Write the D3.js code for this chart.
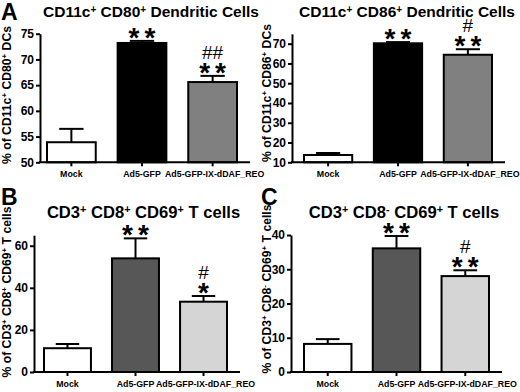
<!DOCTYPE html>
<html>
<head>
<meta charset="utf-8">
<script src="https://cdn.jsdelivr.net/npm/d3@7"></script>
<style>
  body { margin: 0; background: #fff; }
  svg { display: block; font-family: "Liberation Sans", Arial, sans-serif; font-weight: bold; }
</style>
</head>
<body>
<svg id="chart" width="520" height="392"></svg>
<script>
// Groups shared by all four panels
const groups = ['Mock', 'Ad5-GFP', 'Ad5-GFP-IX-dDAF_REO'];

// A left: CD11c+ CD80+ dendritic cells
const cd80Mean = [53.9, 73.2, 65.6];
const cd80Sem = [2.6, 0.4, 1.2];
const cd80Ticks = [50, 55, 60, 65, 70, 75];
const cd80Stars = ['', '**', '**'];
const cd80Hash = ['', '', '##'];

// A right: CD11c+ CD86+ dendritic cells
const cd86Mean = [13.7, 70.2, 64.4];
const cd86Sem = [1.0, 0.6, 2.8];
const cd86Ticks = [10, 20, 30, 40, 50, 60, 70];
const cd86Stars = ['', '**', '**'];
const cd86Hash = ['', '', '#'];

// B: CD3+ CD8+ CD69+ T cells
const cd8Mean = [11.3, 54.0, 33.4];
const cd8Sem = [2.0, 9.5, 2.7];
const cd8Ticks = [0, 20, 40, 60];
const cd8Stars = ['', '**', '*'];
const cd8Hash = ['', '', '#'];

// C: CD3+ CD8- CD69+ T cells
const cd4Mean = [8.2, 36.1, 28.0];
const cd4Sem = [1.4, 3.6, 1.7];
const cd4Ticks = [0, 10, 20, 30, 40];
const cd4Stars = ['', '**', '**'];
const cd4Hash = ['', '', '#'];

const svg = d3.select('#chart');

// Panel layout
const panels = [
  {
    letter: 'A', letterX: 1, letterY: 20,
    title: [['CD11c'], ['+', 1], [' CD80'], ['+', 1], [' Dendritic Cells']],
    titleX: 151, titleY: 17, titleSize: 15.5,
    ylabel: [['% of CD11c'], ['+', 1], [' CD80'], ['+', 1], [' DCs']],
    ylabX: 11, ylabY: 95,
    mean: cd80Mean, sem: cd80Sem, ticks: cd80Ticks, stars: cd80Stars, hash: cd80Hash,
    domain: [50, 75], yBot: 162.3, yTop: 33.7,
    axisX: 40, axisEnd: 250, barL: 47, barR: 237,
    fills: ['#ffffff', '#000000', '#808080']
  },
  {
    letter: null,
    title: [['CD11c'], ['+', 1], [' CD86'], ['+', 1], [' Dendritic Cells']],
    titleX: 407, titleY: 17, titleSize: 15.5,
    ylabel: [['% of CD11c'], ['+', 1], [' CD86'], ['+', 1], [' DCs']],
    ylabX: 271, ylabY: 93,
    mean: cd86Mean, sem: cd86Sem, ticks: cd86Ticks, stars: cd86Stars, hash: cd86Hash,
    domain: [10, 75], yBot: 162.3, yTop: 33.8,
    axisX: 292, axisEnd: 505, barL: 304, barR: 492,
    fills: ['#ffffff', '#000000', '#808080']
  },
  {
    letter: 'B', letterX: 1, letterY: 205,
    title: [['CD3'], ['+', 1], [' CD8'], ['+', 1], [' CD69'], ['+', 1], [' T cells']],
    titleX: 143.5, titleY: 218, titleSize: 16.6,
    ylabel: [['% of CD3'], ['+', 1], [' CD8'], ['+', 1], [' CD69'], ['+', 1], [' T cells']],
    ylabX: 11, ylabY: 292,
    mean: cd8Mean, sem: cd8Sem, ticks: cd8Ticks, stars: cd8Stars, hash: cd8Hash,
    domain: [0, 65], yBot: 372, yTop: 235.2,
    axisX: 34, axisEnd: 240, barL: 44, barR: 227,
    fills: ['#ffffff', '#575757', '#d5d5d5']
  },
  {
    letter: 'C', letterX: 261, letterY: 205,
    title: [['CD3'], ['+', 1], [' CD8'], ['-', 1], [' CD69'], ['+', 1], [' T cells']],
    titleX: 404, titleY: 218, titleSize: 16.6,
    ylabel: [['% of CD3'], ['+', 1], [' CD8'], ['-', 1], [' CD69'], ['+', 1], [' T cells']],
    ylabX: 271, ylabY: 289,
    mean: cd4Mean, sem: cd4Sem, ticks: cd4Ticks, stars: cd4Stars, hash: cd4Hash,
    domain: [0, 40], yBot: 372, yTop: 235,
    axisX: 291, axisEnd: 502, barL: 304, barR: 489,
    fills: ['#ffffff', '#575757', '#d5d5d5']
  }
];

// Write text with superscript parts
function richText(sel, parts) {
  parts.forEach(([str, sup]) => {
    const t = sel.append('tspan').text(str);
    if (sup) t.attr('font-size', '65%').attr('baseline-shift', '45%');
  });
}

panels.forEach(drawPanel);

function drawPanel(p) {
  const g = svg.append('g');

  const y = d3.scaleLinear().domain(p.domain).range([p.yBot, p.yTop]);
  const x = d3.scaleBand().domain(groups).range([p.barL, p.barR]).paddingInner(0.31);
  const bw = x.bandwidth();

  // Panel letter
  if (p.letter) {
    svg.append('text')
      .attr('x', p.letterX).attr('y', p.letterY)
      .attr('font-size', 23)
      .text(p.letter);
  }

  // Title
  const title = g.append('text')
    .attr('x', p.titleX).attr('y', p.titleY)
    .attr('text-anchor', 'middle')
    .attr('font-size', p.titleSize);
  richText(title, p.title);

  // Y label
  const ylab = g.append('text')
    .attr('transform', `translate(${p.ylabX},${p.ylabY}) rotate(-90)`)
    .attr('text-anchor', 'middle')
    .attr('font-size', 12.2);
  richText(ylab, p.ylabel);

  // Bars
  g.selectAll('rect.bar')
    .data(groups)
    .join('rect')
    .attr('class', 'bar')
    .attr('x', d => x(d))
    .attr('width', bw)
    .attr('y', (d, i) => y(p.mean[i]))
    .attr('height', (d, i) => y(p.domain[0]) - y(p.mean[i]))
    .attr('fill', (d, i) => p.fills[i])
    .attr('stroke', '#000')
    .attr('stroke-width', 2);

  // Error bars (upper only)
  const err = g.selectAll('g.err')
    .data(groups)
    .join('g')
    .attr('class', 'err');
  err.append('line')
    .attr('x1', d => x(d) + bw / 2).attr('x2', d => x(d) + bw / 2)
    .attr('y1', (d, i) => y(p.mean[i]))
    .attr('y2', (d, i) => y(p.mean[i] + p.sem[i]))
    .attr('stroke', '#000').attr('stroke-width', 2);
  err.append('line')
    .attr('x1', d => x(d) + bw / 4).attr('x2', d => x(d) + bw * 3 / 4)
    .attr('y1', (d, i) => y(p.mean[i] + p.sem[i]))
    .attr('y2', (d, i) => y(p.mean[i] + p.sem[i]))
    .attr('stroke', '#000').attr('stroke-width', 2);

  // Significance marks
  g.selectAll('text.star')
    .data(groups)
    .join('text')
    .attr('class', 'star')
    .attr('x', d => x(d) + bw / 2 + 2.5)
    .attr('y', (d, i) => y(p.mean[i] + p.sem[i]) + 6)
    .attr('text-anchor', 'middle')
    .attr('font-size', 28)
    .attr('letter-spacing', 5)
    .text((d, i) => p.stars[i]);
  g.selectAll('text.hash')
    .data(groups)
    .join('text')
    .attr('class', 'hash')
    .attr('x', d => x(d) + bw / 2)
    .attr('y', (d, i) => y(p.mean[i] + p.sem[i]) - 17)
    .attr('text-anchor', 'middle')
    .attr('font-size', 19)
    .attr('font-weight', 'normal')
    .text((d, i) => p.hash[i]);

  // Y axis
  const yAxis = g.append('g')
    .attr('transform', `translate(${p.axisX},0)`)
    .call(d3.axisLeft(y).tickValues(p.ticks).tickSize(4).tickSizeOuter(0).tickPadding(2));
  yAxis.select('.domain').attr('stroke-width', 2);
  yAxis.selectAll('.tick line').attr('stroke-width', 2);
  yAxis.selectAll('.tick text')
    .attr('font-size', 12)
    .attr('font-family', null)
    .attr('font-weight', 'bold');

  // X axis
  g.append('line')
    .attr('x1', p.axisX - 1).attr('x2', p.axisEnd)
    .attr('y1', p.yBot).attr('y2', p.yBot)
    .attr('stroke', '#000').attr('stroke-width', 2);
  g.selectAll('line.xtick')
    .data(groups)
    .join('line')
    .attr('class', 'xtick')
    .attr('x1', d => x(d) + bw / 2).attr('x2', d => x(d) + bw / 2)
    .attr('y1', p.yBot).attr('y2', p.yBot + 4)
    .attr('stroke', '#000').attr('stroke-width', 2);
  // the long label sits a touch right of its tick so it clears its neighbour
  g.selectAll('text.xlab')
    .data(groups)
    .join('text')
    .attr('class', 'xlab')
    .attr('x', d => x(d) + bw / 2)
    .attr('dx', (d, i) => i === 2 ? 2 : 0)
    .attr('y', p.yBot + 15)
    .attr('text-anchor', 'middle')
    .attr('font-size', 8.8)
    .text(d => d);
}
</script>
</body>
</html>
